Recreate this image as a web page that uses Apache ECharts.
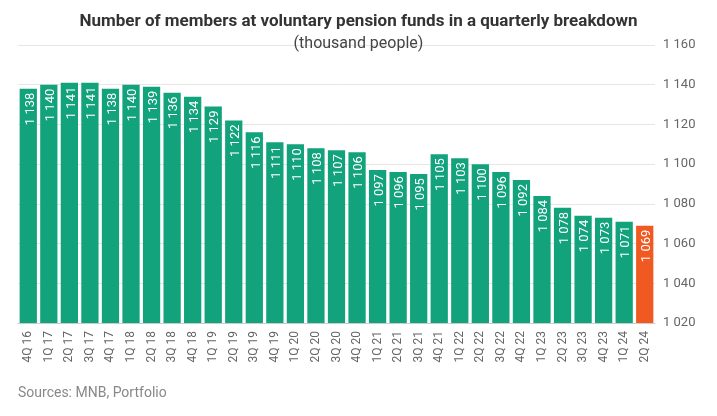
<!DOCTYPE html>
<html><head><meta charset="utf-8">
<script src="https://cdn.jsdelivr.net/npm/echarts@6/dist/echarts.min.js"></script>
<style>html,body{margin:0;padding:0;background:#fff}#chart{width:717px;height:416px}</style>
</head><body><div id="chart"></div>
<script>
const quarters = ['4Q 16','1Q 17','2Q 17','3Q 17','4Q 17','1Q 18','2Q 18','3Q 18','4Q 18','1Q 19','2Q 19','3Q 19','4Q 19','1Q 20','2Q 20','3Q 20','4Q 20','1Q 21','2Q 21','3Q 21','4Q 21','1Q 22','2Q 22','3Q 22','4Q 22','1Q 23','2Q 23','3Q 23','4Q 23','1Q 24','2Q 24']
const members = [1138,1140,1141,1141,1138,1140,1139,1136,1134,1129,1122,1116,1111,1110,1108,1107,1106,1097,1096,1095,1105,1103,1100,1096,1092,1084,1078,1074,1073,1071,1069]

const fmt = v => String(v).replace(/\B(?=(\d{3})+(?!\d))/g, ' ')
const chart = echarts.init(document.getElementById('chart'))
chart.setOption({
    textStyle: { fontFamily: 'Roboto' },
    title: {
        text: 'Number of members at voluntary pension funds in a quarterly breakdown',
        subtext: '(thousand people)',
        left: 'center', top: 8, itemGap: 6,
        textStyle: { fontSize: 17, fontWeight: 'bold', color: '#333' },
        subtextStyle: { fontSize: 16, color: '#444' }
    },
    graphic: [{ type: 'text', left: 18, top: 386, style: { text: 'Sources: MNB, Portfolio', fill: '#888', font: '14px Roboto' } }],
    grid: { left: 18, right: 62, top: 45, bottom: 93 },
    xAxis: {
        type: 'category', data: quarters,
        axisTick: { show: false },
        axisLine: { lineStyle: { color: '#ccc' } },
        axisLabel: { rotate: 90, color: '#666', fontSize: 12, interval: 0 }
    },
    yAxis: {
        type: 'value', position: 'right', min: 1020, max: 1160, interval: 20,
        axisLabel: { color: '#666', fontSize: 13, formatter: fmt },
        splitLine: { lineStyle: { color: '#e6e6e6' } }
    },
    series: [{
        type: 'bar', barCategoryGap: '16%',
        data: members.map((v, i) => ({ value: v, itemStyle: { color: i === members.length - 1 ? '#f05a22' : '#12a27c' } })),
        label: {
            show: true, position: 'insideTop', rotate: 90, align: 'right', verticalAlign: 'middle',
            offset: [0, 2], distance: 4,
            color: '#fff', fontSize: 13, formatter: p => fmt(p.value)
        }
    }]
})
</script></body></html>
